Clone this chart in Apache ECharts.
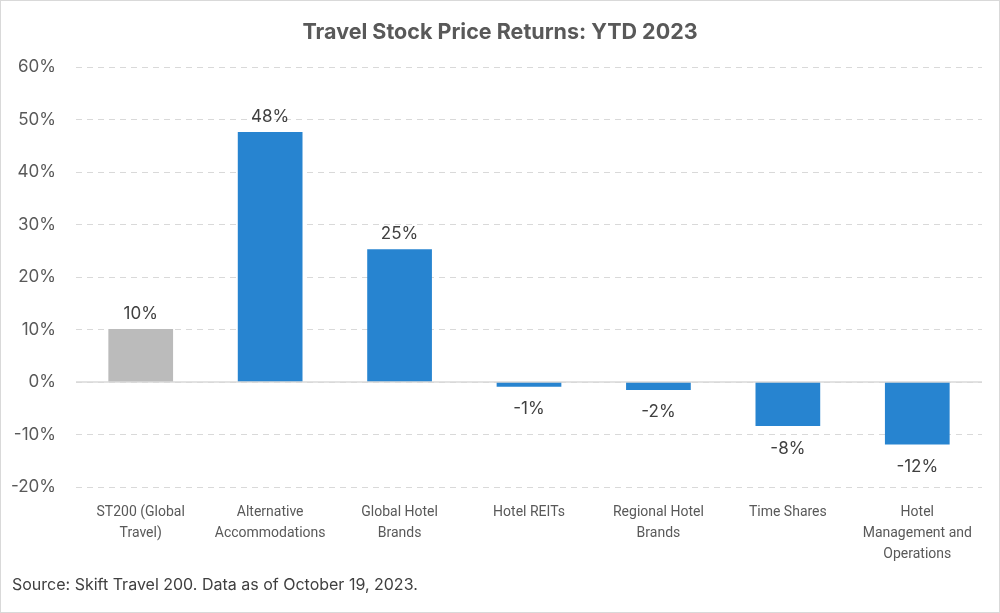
<!DOCTYPE html>
<html><head><meta charset="utf-8">
<script src="https://cdn.jsdelivr.net/npm/echarts@6/dist/echarts.min.js"></script>
<style>
html,body{margin:0;padding:0;background:#fff;}
#c{width:998px;height:611px;border:1px solid #d9d9d9;}
</style></head>
<body><div id="c"></div>
<script>
const categories = ["ST200 (Global\nTravel)", "Alternative\nAccommodations", "Global Hotel\nBrands", "Hotel REITs", "Regional Hotel\nBrands", "Time Shares", "Hotel\nManagement and\nOperations"];
const returns = [10.1, 47.6, 25.3, -0.9, -1.5, -8.4, -11.9];
const barColors = ["#BBBBBB", "#2784D0", "#2784D0", "#2784D0", "#2784D0", "#2784D0", "#2784D0"];
const titleText = "Travel Stock Price Returns: YTD 2023";
const sourceText = "Source: Skift Travel 200. Data as of October 19, 2023.";

const chart = echarts.init(document.getElementById('c'));
const font = "Inter, 'Open Sans', sans-serif";
const catFont = "Roboto, 'Liberation Sans', sans-serif";
chart.setOption({
  animation: false,
  textStyle: {fontFamily: font},
  title: [{
    text: titleText, left: 'center', top: 16,
    textStyle: {fontSize: 21.5, fontWeight: 'bold', color: '#595959', fontFamily: font}
  }, {
    text: sourceText, left: 6, top: 571,
    textStyle: {fontSize: 16, fontWeight: 'normal', color: '#404040', fontFamily: font}
  }],
  grid: {left: 75, right: 17, top: 66, bottom: 125, containLabel: false},
  xAxis: {
    type: 'category', data: categories,
    axisLine: {show: false, onZero: false},
    axisTick: {show: false},
    axisLabel: {color: '#595959', fontSize: 14, lineHeight: 21, margin: 15, interval: 0, fontFamily: catFont},
    splitLine: {show: false}
  },
  yAxis: {
    type: 'value', min: -20, max: 60, interval: 10,
    axisLine: {show: false}, axisTick: {show: false},
    axisLabel: {formatter: v => v + '%', color: '#595959', fontSize: 17, margin: 20, fontFamily: font},
    splitLine: {lineStyle: {color: '#d9d9d9', type: [6, 5], width: 1}}
  },
  series: [{
    type: 'bar', barWidth: '50%',
    data: returns.map((v, i) => ({
      value: v, itemStyle: {color: barColors[i]},
      label: {distance: v < 0 ? 14 : 7}
    })),
    label: {
      show: true, position: 'outside',
      formatter: p => (p.value).toFixed(0) + '%',
      color: '#404040', fontSize: 17, fontFamily: font
    },
    markLine: {
      silent: true, symbol: 'none', label: {show: false},
      lineStyle: {color: '#d9d9d9', type: 'solid', width: 1.5},
      data: [{yAxis: 0}]
    }
  }]
});
</script></body></html>
